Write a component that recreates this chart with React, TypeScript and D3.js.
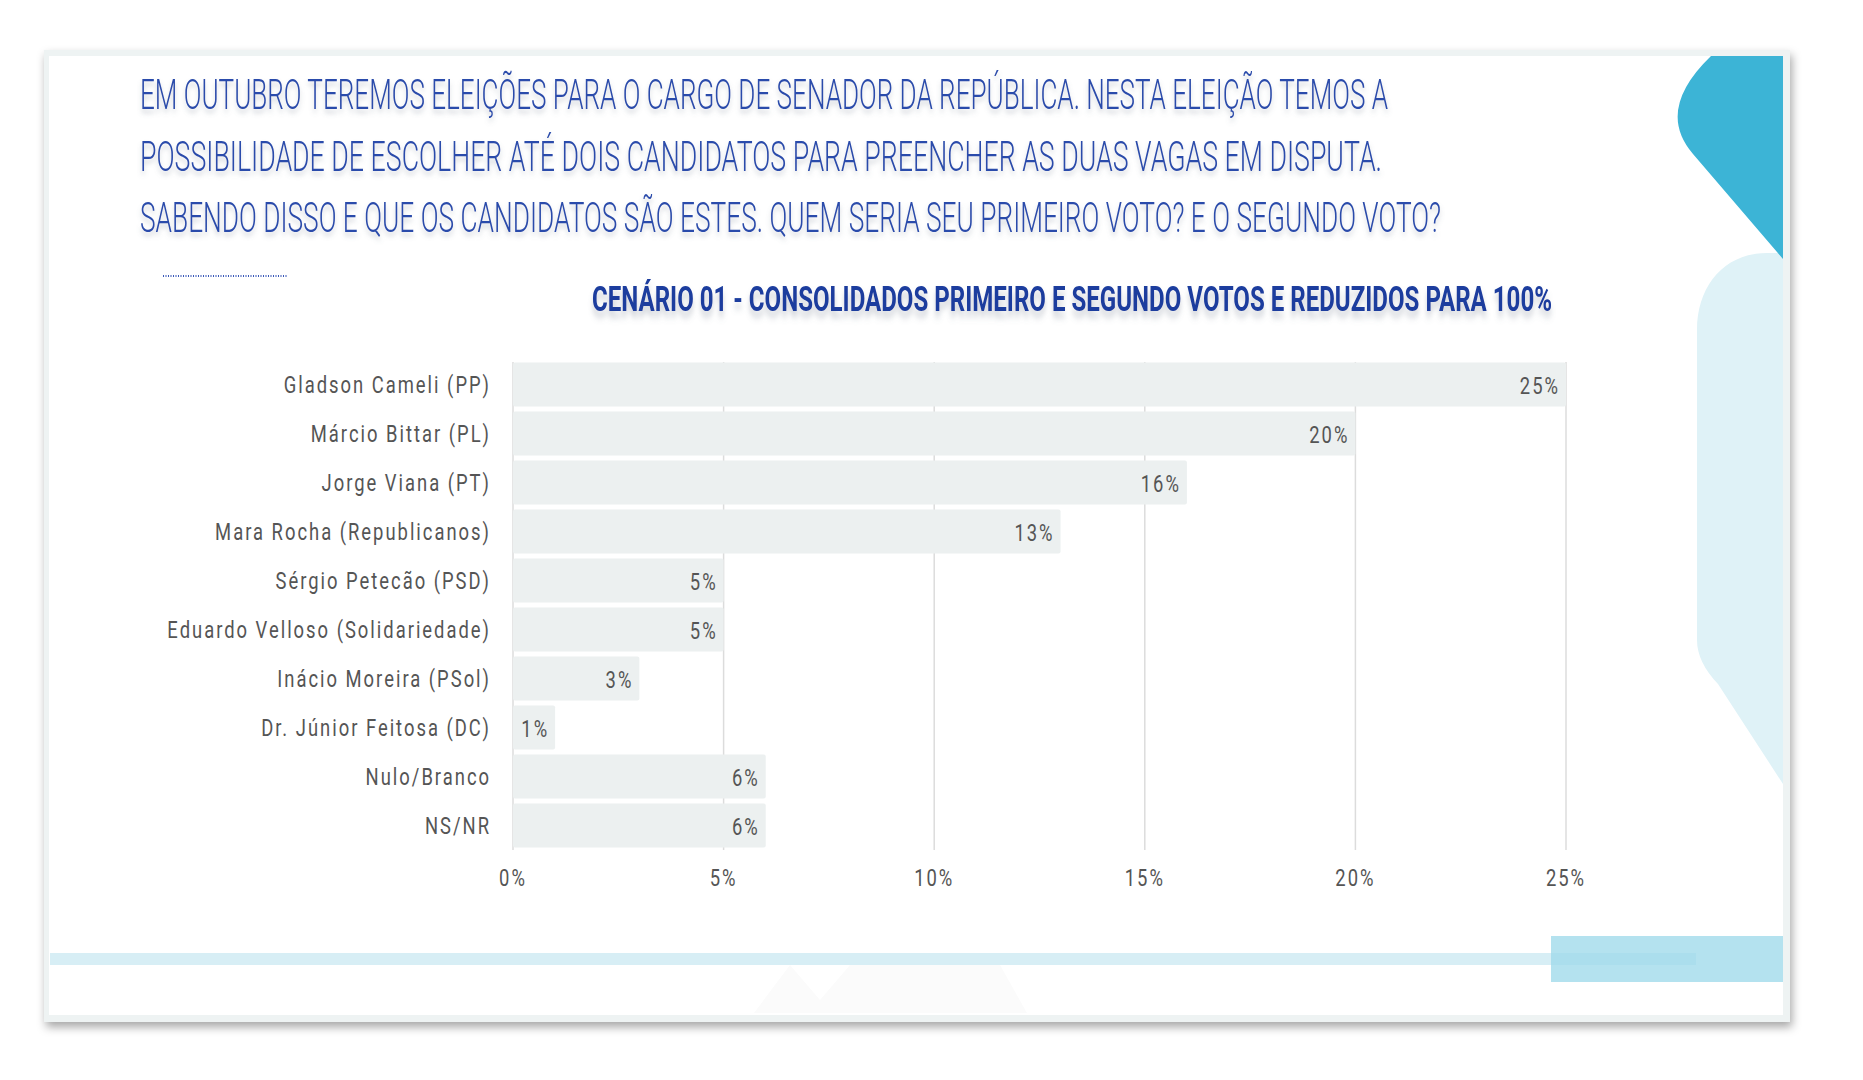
import React from 'react';
import * as d3 from 'd3';

const titleLines = [
  'EM OUTUBRO TEREMOS ELEIÇÕES PARA O CARGO DE SENADOR DA REPÚBLICA. NESTA ELEIÇÃO TEMOS A',
  'POSSIBILIDADE DE ESCOLHER ATÉ DOIS CANDIDATOS PARA PREENCHER AS DUAS VAGAS EM DISPUTA.',
  'SABENDO DISSO E QUE OS CANDIDATOS SÃO ESTES. QUEM SERIA SEU PRIMEIRO VOTO? E O SEGUNDO VOTO?',
];
const subtitle = 'CENÁRIO 01 - CONSOLIDADOS PRIMEIRO E SEGUNDO VOTOS E REDUZIDOS PARA 100%';

const candidates = [
  'Gladson Cameli (PP)',
  'Márcio Bittar (PL)',
  'Jorge Viana (PT)',
  'Mara Rocha (Republicanos)',
  'Sérgio Petecão (PSD)',
  'Eduardo Velloso (Solidariedade)',
  'Inácio Moreira (PSol)',
  'Dr. Júnior Feitosa (DC)',
  'Nulo/Branco',
  'NS/NR',
];
const shares = [25, 20, 16, 13, 5, 5, 3, 1, 6, 6];
const xTicks = [0, 5, 10, 15, 20, 25];

const W = 1863;
const H = 1080;
const labelFont = 'Roboto, "DejaVu Sans", sans-serif';
const squeeze = 0.8;
const spacing = 2.5;

export default function App() {
  const x = d3.scaleLinear().domain([0, 25]).range([513, 1566]);
  const y = d3
    .scaleBand<string>()
    .domain(candidates)
    .range([360, 850])
    .paddingInner(0.1)
    .paddingOuter(0.05);

  const titleWidths = [1248, 1242, 1301];

  return (
    <svg
      width={W}
      height={H}
      style={{ position: 'absolute', left: 0, top: 0, background: '#fff' }}
    >
      <defs>
        <filter id="card-shadow" x="-5%" y="-5%" width="110%" height="115%">
          <feDropShadow dx="2" dy="5" stdDeviation="5" floodColor="#000" floodOpacity="0.35" />
        </filter>
        <filter id="txt-shadow" x="-5%" y="-30%" width="110%" height="170%">
          <feDropShadow dx="0" dy="4" stdDeviation="2.5" floodColor="#6a7488" floodOpacity="0.35" />
        </filter>
      </defs>

      {/* card */}
      <rect x={44} y={50} width={1746} height={972} fill="#eef3f3" filter="url(#card-shadow)" />
      <rect x={49} y={56} width={1734} height={959} fill="#fff" />

      {/* right decorations */}
      <path
        d="M1697,330 C1697,285 1725,253 1767,253 L1783,253 L1783,784 L1718,684 Q1697,662 1697,640 Z"
        fill="#dff2f7"
      />
      <path d="M1711,56 Q1655,110 1693,154 L1783,259 L1783,56 Z" fill="#3cb4d6" />

      {/* bottom band */}
      <polygon points="754,1013 790,965 820,1000 850,965 1000,965 1027,1013" fill="#fbfbfb" />
      <rect x={50} y={953} width={1646} height={12} fill="#d7eef5" />
      <rect x={1551} y={936} width={232} height={46} fill="#9fdaea" opacity={0.78} />

      {/* title */}
      <g filter="url(#txt-shadow)">
        {titleLines.map((t, i) => (
          <text
            key={i}
            transform={`translate(140,${109 + i * 61.5}) scale(1,${43 / 26})`}
            fontFamily={labelFont}
            fontWeight={300}
            fontSize={26}
            fill="#2c4cab"
            textLength={titleWidths[i]}
            lengthAdjust="spacingAndGlyphs"
          >
            {t}
          </text>
        ))}
      </g>

      <line
        x1={163}
        x2={287}
        y1={276}
        y2={276}
        stroke="#3a58b8"
        strokeWidth={2}
        strokeDasharray="1,1.5"
      />

      <text
        transform={`translate(592,311) scale(1,${35 / 22})`}
        fontFamily={labelFont}
        fontWeight={700}
        fontSize={22}
        fill="#1b3c9e"
        textLength={960}
        lengthAdjust="spacingAndGlyphs"
        filter="url(#txt-shadow)"
      >
        {subtitle}
      </text>

      {/* grid */}
      {xTicks.map((t) => (
        <line
          key={t}
          x1={x(t)}
          x2={x(t)}
          y1={362}
          y2={850}
          stroke="#dcdcdc"
          strokeWidth={1.5}
        />
      ))}

      {/* bars */}
      {candidates.map((c, i) => (
        <rect
          key={c}
          x={x(0)}
          y={y(c)}
          width={x(shares[i]) - x(0)}
          height={y.bandwidth()}
          rx={2}
          fill="#ecf0f0"
        />
      ))}

      {/* category labels */}
      {candidates.map((c) => (
        <text
          key={c}
          transform={`translate(491,${(y(c) ?? 0) + y.bandwidth() / 2 + 8}) scale(${squeeze},1)`}
          textAnchor="end"
          fontFamily={labelFont}
          fontSize={23}
          letterSpacing={spacing}
          fill="#555"
        >
          {c}
        </text>
      ))}

      {/* value labels */}
      {candidates.map((c, i) => (
        <text
          key={c}
          transform={`translate(${x(shares[i]) - 6},${(y(c) ?? 0) + y.bandwidth() / 2 + 9}) scale(${squeeze},1)`}
          textAnchor="end"
          fontFamily={labelFont}
          fontSize={23}
          letterSpacing={spacing}
          fill="#555"
        >
          {`${shares[i]}%`}
        </text>
      ))}

      {/* axis ticks */}
      {xTicks.map((t) => (
        <text
          key={t}
          transform={`translate(${x(t)},886) scale(${squeeze},1)`}
          textAnchor="middle"
          fontFamily={labelFont}
          fontSize={23}
          letterSpacing={spacing}
          fill="#555"
        >
          {`${t}%`}
        </text>
      ))}
    </svg>
  );
}
